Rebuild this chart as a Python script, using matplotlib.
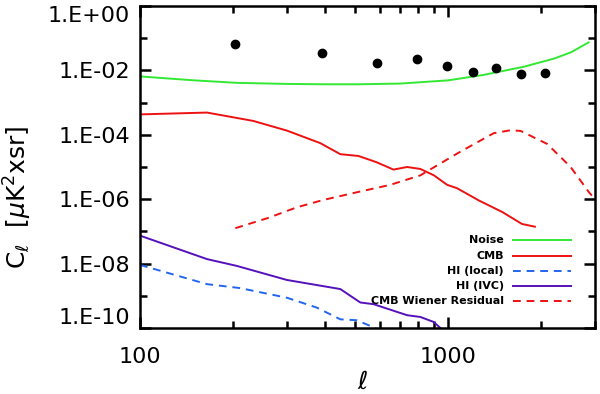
import matplotlib
matplotlib.use("Agg")
import matplotlib.pyplot as plt
import numpy as np
from matplotlib.ticker import FixedLocator, NullFormatter, FixedFormatter

plt.rcParams['font.family'] = ['DejaVu Sans']
plt.rcParams['mathtext.fontset'] = 'dejavusans'

# Data
noise_l = [100, 150, 207, 300, 400, 507, 700, 1000, 1300, 1758, 2200, 2500, 2860]
noise_c = [6.5e-3, 4.9e-3, 4.1e-3, 3.8e-3, 3.7e-3, 3.7e-3, 3.9e-3, 4.9e-3, 7.2e-3, 1.29e-2, 2.3e-2, 3.6e-2, 7.4e-2]

cmb_l = [100, 165, 233, 300, 385, 447, 512, 587, 665, 736, 813, 900, 993, 1069, 1260, 1500, 1738, 1914]
cmb_c = [4.3e-4, 4.9e-4, 2.7e-4, 1.35e-4, 5.5e-5, 2.5e-5, 2.2e-5, 1.4e-5, 8.3e-6, 1.0e-5, 8.7e-6, 5.5e-6, 2.8e-6, 2.2e-6, 9.1e-7, 4.0e-7, 1.7e-7, 1.4e-7]

wien_l = [204, 260, 323, 394, 500, 650, 813, 1069, 1406, 1592, 1720, 2098, 2500, 2865, 3000]
wien_c = [1.26e-7, 2.6e-7, 5.6e-7, 9.5e-7, 1.6e-6, 2.8e-6, 5.5e-6, 2.6e-5, 1.12e-4, 1.38e-4, 1.32e-4, 5.2e-5, 1.0e-5, 1.66e-6, 1.0e-6]

ivc_l = [100, 165, 206, 300, 447, 519, 573, 736, 813, 897, 955, 1000]
ivc_c = [7.4e-8, 1.38e-8, 8.5e-9, 3.1e-9, 1.62e-9, 6.2e-10, 5.5e-10, 2.5e-10, 2.2e-10, 1.55e-10, 9.1e-11, 6e-11]

hil_l = [100, 165, 211, 300, 375, 447, 506, 587, 650]
hil_c = [9.1e-9, 2.3e-9, 1.74e-9, 8.7e-10, 4.3e-10, 1.86e-10, 1.74e-10, 9.5e-11, 6e-11]

dots_l = [204, 391, 587, 793, 993, 1202, 1436, 1726, 2070]
dots_c = [0.064, 0.035, 0.0171, 0.0223, 0.0135, 0.0088, 0.0115, 0.0080, 0.0084]
dots_err = [0.012, 0, 0, 0, 0, 0, 0, 0, 0]

y_major = [1e-10, 1e-8, 1e-6, 1e-4, 1e-2, 1e0]
y_labels = ['1.E-10', '1.E-08', '1.E-06', '1.E-04', '1.E-02', '1.E+00']
y_minor = [1e-9, 1e-7, 1e-5, 1e-3, 1e-1]
x_major = [100, 1000]
x_labels = ['100', '1000']
x_minor = [200, 300, 400, 500, 600, 700, 800, 900, 2000, 3000]

legend_names = ['Noise', 'CMB', 'HI (local)', 'HI (IVC)', 'CMB Wiener Residual']
col_noise = '#33e833'
col_red = '#ee1111'
col_blue = '#2266ee'
col_purple = '#5511bb'

fig = plt.figure(figsize=(6.0, 3.94), dpi=100)
ax = fig.add_axes([0.2333, 0.1675, 0.7584, 0.8173])
ax.set_xscale('log')
ax.set_yscale('log')
ax.set_xlim(100, 3000)
ax.set_ylim(1e-10, 1e0)

lw = 1.4
ax.plot(noise_l, noise_c, color=col_noise, lw=lw)
ax.plot(cmb_l, cmb_c, color=col_red, lw=lw)
ax.plot(hil_l, hil_c, color=col_blue, lw=lw, ls=(0, (4, 3)))
ax.plot(ivc_l, ivc_c, color=col_purple, lw=lw)
ax.plot(wien_l, wien_c, color=col_red, lw=lw, ls=(0, (4, 3)))
ax.errorbar(dots_l, dots_c, yerr=dots_err, fmt='o', color='black', ms=6, elinewidth=3, capsize=0)

ax.yaxis.set_major_locator(FixedLocator(y_major))
ax.yaxis.set_major_formatter(FixedFormatter(y_labels))
ax.yaxis.set_minor_locator(FixedLocator(y_minor))
ax.yaxis.set_minor_formatter(NullFormatter())
ax.xaxis.set_major_locator(FixedLocator(x_major))
ax.xaxis.set_major_formatter(FixedFormatter(x_labels))
ax.xaxis.set_minor_locator(FixedLocator(x_minor))
ax.xaxis.set_minor_formatter(NullFormatter())

ax.tick_params(which='both', direction='in', top=True, right=True, width=1.8, labelsize=16)
ax.tick_params(which='major', length=8)
ax.tick_params(axis='y', which='major', pad=7)
ax.tick_params(axis='x', which='major', pad=14)
ax.tick_params(which='minor', length=5)
fig.canvas.draw()
ylabs = ax.get_yticklabels()
ylabs[0].set_verticalalignment('bottom')
ylabs[-1].set_verticalalignment('top')
for s in ax.spines.values():
    s.set_linewidth(1.8)

ax.set_xlabel(r'$\ell$', fontsize=18, va='center')
ax.xaxis.set_label_coords(0.49, -0.168)
ax.set_ylabel(r'C$_\ell$  [$\mu$K$^2$xsr]', fontsize=18, va='center')
ax.yaxis.set_label_coords(-0.268, 0.407)

# manual legend (right-aligned text, line samples to the right)
styles = [(col_noise, '-'), (col_red, '-'), (col_blue, (0, (4, 3))), (col_purple, '-'), (col_red, (0, (4, 3)))]
y0 = 0.272
dy = 0.047
for i, (name, (c, ls)) in enumerate(zip(legend_names, styles)):
    yy = y0 - i * dy
    ax.text(0.8, yy, name, transform=ax.transAxes, ha='right', va='center', fontsize=8, fontweight='bold')
    ax.plot([0.819, 0.948], [yy, yy], transform=ax.transAxes, color=c, ls=ls, lw=lw)

fig.savefig('out.png', dpi=100)
